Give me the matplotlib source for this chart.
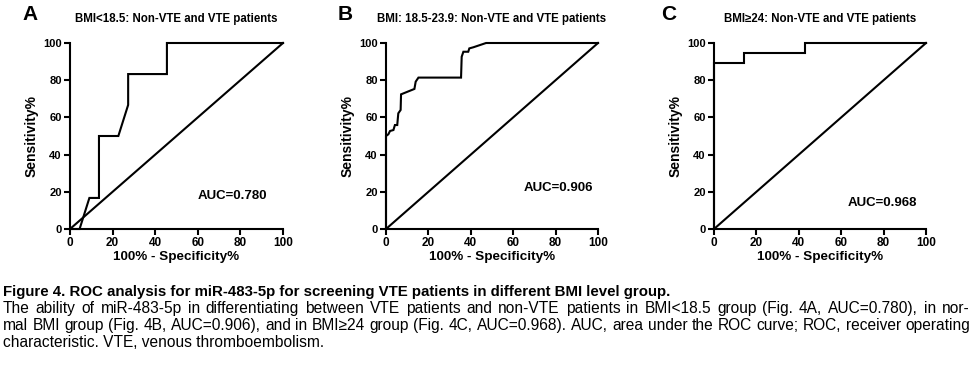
import numpy as np
import matplotlib.pyplot as plt

plt.rcParams['font.family'] = 'Liberation Sans'
plt.rcParams['font.weight'] = 'bold'

# ROC curve points (100% - Specificity%, Sensitivity%)
fpr_a = [0, 4.5, 9.1, 13.6, 13.6, 22.7, 27.3, 27.3, 45.5, 45.5, 100]
tpr_a = [0, 0, 16.7, 16.7, 50, 50, 66.7, 83.3, 83.3, 100, 100]

fpr_b = [0, 0, 1.1, 1.9, 3.5, 4.2, 5.3, 5.8, 6.9, 7.1, 13.4, 14.0, 15.3, 35.4,
         35.7, 36.5, 38.8, 39.3, 41.2, 47.2, 100]
tpr_b = [0, 50, 50.9, 52.7, 53.2, 55.9, 55.9, 62.2, 64.0, 72.4, 75.3, 79.2, 81.4,
         81.4, 92.6, 95.3, 95.3, 97.1, 97.7, 100, 100]

fpr_c = [0, 0, 14.3, 14.3, 42.9, 42.9, 100]
tpr_c = [0, 89.5, 89.5, 94.7, 94.7, 100, 100]

panels = ['A', 'B', 'C']
titles = ['BMI<18.5: Non-VTE and VTE patients',
          'BMI: 18.5-23.9: Non-VTE and VTE patients',
          'BMI\u226524: Non-VTE and VTE patients']
auc_labels = ['AUC=0.780', 'AUC=0.906', 'AUC=0.968']
auc_pos = [(60, 18), (65, 22), (63, 14)]
curves = [(fpr_a, tpr_a), (fpr_b, tpr_b), (fpr_c, tpr_c)]

caption_head = 'Figure 4. ROC analysis for miR-483-5p for screening VTE patients in different BMI level group.'
caption_body = ['The ability of miR-483-5p in differentiating between VTE patients and non-VTE patients in BMI<18.5 group (Fig. 4A, AUC=0.780), in nor-',
                'mal BMI group (Fig. 4B, AUC=0.906), and in BMI\u226524 group (Fig. 4C, AUC=0.968). AUC, area under the ROC curve; ROC, receiver operating',
                'characteristic. VTE, venous thromboembolism.']

W, H = 974, 372
fig = plt.figure(figsize=(W / 100, H / 100), dpi=100)

# axes boxes in pixels: left, right
ax_x = [(70, 283), (386, 598), (714, 926)]
top, bottom = 43, 229

for i in range(3):
    l, r = ax_x[i]
    ax = fig.add_axes([l / W, 1 - bottom / H, (r - l) / W, (bottom - top) / H])
    fx, ty = curves[i]
    ax.plot(fx, ty, color='black', lw=1.5, solid_joinstyle='miter', clip_on=False)
    ax.plot([0, 100], [0, 100], color='black', lw=1.5, clip_on=False)
    ax.set_xlim(0, 100)
    ax.set_ylim(0, 100)
    ax.set_xticks(np.arange(0, 101, 20))
    ax.set_yticks(np.arange(0, 101, 20))
    for s in ['top', 'right']:
        ax.spines[s].set_visible(False)
    for s in ['left', 'bottom']:
        ax.spines[s].set_linewidth(1.5)
    ax.tick_params(direction='out', length=4.5, width=1.5, pad=1.5)
    ax.tick_params(axis='x', labelsize=8.5)
    ax.tick_params(axis='y', labelsize=8)
    for lab in ax.get_xticklabels() + ax.get_yticklabels():
        lab.set_fontweight('bold')
    ax.set_xlabel('100% - Specificity%', fontsize=9.7, fontweight='bold', labelpad=1)
    ax.set_ylabel('Sensitivity%', fontsize=10, fontweight='bold', labelpad=3)
    ax.set_title(titles[i], fontsize=8.3, fontweight='bold', pad=15)
    ax.text(auc_pos[i][0], auc_pos[i][1], auc_labels[i], fontsize=9.5,
            fontweight='bold', va='center')

letter_x = [30, 345, 669]
for i in range(3):
    fig.text(letter_x[i] / W, 1 - 14 / H, panels[i], fontsize=15,
             fontweight='bold', ha='center', va='center')

fig.text(3 / W, 1 - 296 / H, caption_head, fontsize=10.85, fontweight='bold',
         va='baseline')

# body lines, first two justified to the right margin
renderer = fig.canvas.get_renderer()
left_px, right_px = 3, 970
body_size = 11.2
for j, line in enumerate(caption_body):
    ypos = 1 - (313 + 17 * j) / H
    if j == len(caption_body) - 1:
        fig.text(left_px / W, ypos, line, fontsize=body_size,
                 fontweight='normal', va='baseline')
        continue
    words = line.split(' ')
    items = [fig.text(0, ypos, w, fontsize=body_size, fontweight='normal',
                      va='baseline') for w in words]
    widths = [t.get_window_extent(renderer).width for t in items]
    gap = (right_px - left_px - sum(widths)) / (len(words) - 1)
    x = left_px
    for t, w in zip(items, widths):
        t.set_x(x / W)
        x += w + gap

fig.savefig('out.png', dpi=100)
